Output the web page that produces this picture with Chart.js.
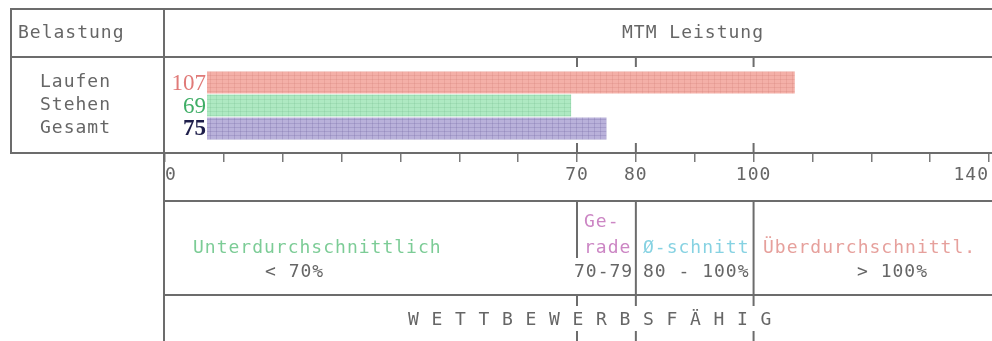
<!DOCTYPE html>
<html>
<head>
<meta charset="utf-8">
<script src="https://cdn.jsdelivr.net/npm/chart.js@4/dist/chart.umd.min.js"></script>
<style>
  html, body { margin: 0; padding: 0; background: #fff; overflow: hidden; }
  canvas { display: block; }
</style>
</head>
<body>
<canvas id="c" width="992" height="341"></canvas>
<script>
// Belastungsarten und ihre MTM-Leistung in Prozent
const categories = ['Laufen', 'Stehen', 'Gesamt'];
const leistung = [107, 69, 75];
const valueColors = ['#e07a78', '#3fae66', '#1e1e4a'];
const barColors = ['#f4b0a8', '#aee9c2', '#b9b1da'];
const barLines = ['rgba(205,120,110,0.22)', 'rgba(90,170,120,0.16)', 'rgba(110,100,160,0.25)'];

// Skala und beschriftete Ticks
const axisMin = 0;
const axisMax = 140;
const axisStep = 10;
const tickLabels = [0, 70, 80, 100, 140];
const zoneBounds = [70, 80, 100];

// Texte der Tabelle
const headerLeft = 'Belastung';
const headerRight = 'MTM Leistung';
const zoneTitles = ['Unterdurchschnittlich', 'Ge-', 'rade', 'Ø-schnitt', 'Überdurchschnittl.'];
const zoneRanges = ['< 70%', '70-79', '80 - 100%', '> 100%'];
const footer = 'WETTBEWERBSFÄHIG';

const MONO = '"DejaVu Sans Mono", monospace';
const LINE = '#6c6c6c';
const TEXT = '#666666';

function texture(base, line) {
  const c = document.createElement('canvas');
  c.width = 6; c.height = 4;
  const g = c.getContext('2d');
  g.fillStyle = base; g.fillRect(0, 0, 6, 4);
  g.fillStyle = line; g.fillRect(0, 0, 1, 4); g.fillRect(0, 3, 6, 1);
  return g.createPattern(c, 'repeat');
}

function text(ctx, s, x, y, color, align) {
  ctx.font = '18px ' + MONO;
  ctx.letterSpacing = '1px';
  ctx.fillStyle = color;
  ctx.textAlign = align || 'left';
  ctx.textBaseline = 'middle';
  ctx.fillText(s, x, y);
}

function line(ctx, x1, y1, x2, y2) {
  ctx.beginPath();
  ctx.moveTo(x1, y1);
  ctx.lineTo(x2, y2);
  ctx.stroke();
}

const tablePlugin = {
  id: 'table',
  beforeDraw(chart) {
    chart.ctx.letterSpacing = '1px';
  },
  afterDatasetsDraw(chart) {
    const ctx = chart.ctx;
    const left = chart.chartArea.left;
    ctx.save();
    chart.getDatasetMeta(0).data.forEach((bar, i) => {
      ctx.fillStyle = '#fff';
      ctx.fillRect(left - 1, bar.y - bar.height / 2 - 1, 43, bar.height + 2);
      ctx.font = (i === 2 ? 'bold ' : '') + '23px "Liberation Serif", serif';
      ctx.letterSpacing = '0px';
      ctx.textAlign = 'right';
      ctx.textBaseline = 'middle';
      ctx.fillStyle = valueColors[i];
      ctx.fillText(String(leistung[i]), left + 41, bar.y + 1);
    });
    ctx.restore();
  },
  afterDraw(chart) {
    const ctx = chart.ctx;
    const xs = chart.scales.x;
    const W = chart.width;
    const L = chart.chartArea.left - 1;
    ctx.save();
    ctx.strokeStyle = LINE;
    ctx.lineWidth = 2;

    // Kopfbox mit Belastungsspalte
    line(ctx, 11, 9, W, 9);
    line(ctx, 11, 57, W, 57);
    line(ctx, 11, 153, W, 153);
    line(ctx, 11, 8, 11, 154);
    line(ctx, L, 8, L, 341);
    // Zonen- und Fusszeile
    line(ctx, L, 201, W, 201);
    line(ctx, L, 295, W, 295);

    zoneBounds.forEach((v, i) => {
      const px = xs.getPixelForValue(v);
      line(ctx, px, 57, px, 67);
      line(ctx, px, 143, px, 153);
      line(ctx, px, 201, px, i === 0 ? 258 : 295);
      line(ctx, px, 295, px, 306);
      line(ctx, px, 331, px, 341);
    });

    text(ctx, headerLeft, 18, 33, TEXT);
    text(ctx, headerRight, 622, 33, TEXT);

    text(ctx, zoneTitles[0], 193, 248, '#7ccc96');
    text(ctx, zoneRanges[0], 265, 272, TEXT);
    text(ctx, zoneTitles[1], 584, 222, '#cc86c4');
    text(ctx, zoneTitles[2], 584, 248, '#cc86c4');
    text(ctx, zoneRanges[1], 574, 272, TEXT);
    text(ctx, zoneTitles[3], 643, 248, '#86d2e2');
    text(ctx, zoneRanges[2], 643, 272, TEXT);
    text(ctx, zoneTitles[4], 763, 248, '#e6a09c');
    text(ctx, zoneRanges[3], 857, 272, TEXT);

    Array.from(footer).forEach((ch, i) => {
      text(ctx, ch, 408 + i * 23.5, 320, TEXT);
    });
    ctx.restore();
  }
};

const ctx = document.getElementById('c').getContext('2d');
new Chart(ctx, {
  type: 'bar',
  data: {
    labels: categories,
    datasets: [{
      data: leistung,
      xAxisID: 'x',
      yAxisID: 'y',
      backgroundColor: barColors.map((c, i) => texture(c, barLines[i])),
      borderWidth: 0,
      barPercentage: 0.96,
      categoryPercentage: 1.0
    }]
  },
  options: {
    indexAxis: 'y',
    responsive: false,
    animation: false,
    events: [],
    devicePixelRatio: 1,
    layout: { padding: { top: 71, bottom: 140, left: 40, right: 1 } },
    plugins: { legend: { display: false }, tooltip: { enabled: false } },
    scales: {
      x: {
        type: 'linear',
        position: 'bottom',
        weight: 1,
        min: axisMin,
        max: axisMax,
        grid: { drawOnChartArea: false, drawTicks: true, tickLength: 9, color: '#7a7a7a', lineWidth: 1.5 },
        border: { display: false },
        ticks: {
          stepSize: axisStep,
          autoSkip: false,
          maxRotation: 0,
          align: 'inner',
          padding: 3,
          color: TEXT,
          font: { family: MONO, size: 18 },
          callback: v => tickLabels.includes(v) ? String(v) : ''
        },
        afterFit(s) { s.height = 48; }
      },
      y: {
        type: 'category',
        position: 'left',
        grid: { display: false },
        border: { display: false },
        ticks: { autoSkip: false, crossAlign: 'far', padding: 0, color: TEXT, font: { family: MONO, size: 18 } },
        afterFit(s) { s.width = 125; }
      },
      gap: {
        type: 'linear',
        axis: 'x',
        position: 'bottom',
        weight: 0,
        display: true,
        grid: { display: false },
        border: { display: false },
        ticks: { display: false },
        afterFit(s) { s.height = 13; }
      }
    }
  },
  plugins: [tablePlugin]
});
</script>
</body>
</html>
